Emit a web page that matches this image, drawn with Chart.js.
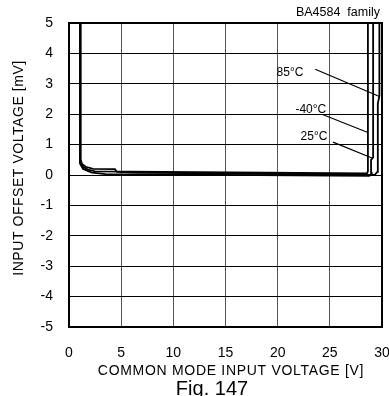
<!DOCTYPE html>
<html lang="en">
<head>
<meta charset="UTF-8">
<title>Input offset voltage vs common mode input voltage</title>
<script src="https://cdn.jsdelivr.net/npm/chart.js"></script>
<style>
  body { margin: 0; background: #fff; }
  canvas { display: block; }
</style>
</head>
<body>
<canvas id="vioChart" width="389" height="396"></canvas>
<script>
// axis ticks
const xTicks = [0, 5, 10, 15, 20, 25, 30];
const yTicks = [-5, -4, -3, -2, -1, 0, 1, 2, 3, 4, 5];

// curves (x = common mode input voltage [V], y = offset [mV])
const t85X = [1.12, 1.12, 1.25, 1.6, 2.3, 4.4, 4.6, 6.5, 29.3, 29.55, 29.6, 29.75, 29.75];
const t85Y = [5, 0.5, 0.36, 0.27, 0.2, 0.19, 0.1, 0.08, 0.0, 0.1, 2.35, 2.6, 5];
const tm40X = [1.08, 1.08, 1.3, 1.8, 2.5, 28.55, 28.65, 28.65];
const tm40Y = [5, 0.42, 0.28, 0.18, 0.12, 0.05, 0.12, 5];
const t25X = [1.05, 1.05, 1.35, 2.2, 3.5, 28.8, 29.0, 28.95, 28.95, 29.15, 29.15];
const t25Y = [5, 0.38, 0.2, 0.08, 0.03, -0.03, 0.05, 0.15, 0.5, 0.58, 5];

// curve labels and their leader lines (data coords)
const labelText = ['85°C', '-40°C', '25°C'];
const labelX = [19.9, 21.7, 22.2];
const labelY = [3.38, 2.16, 1.27];
const leaderFrom = [[23.6, 3.48], [24.3, 1.99], [25.3, 1.08]];
const leaderTo = [[29.7, 2.59], [28.65, 1.4], [29.1, 0.55]];

function pts(xs, ys) {
    return xs.map((x, i) => ({ x: x, y: ys[i] }));
}

const FONT = '"Liberation Sans", Arial, sans-serif';

// frame, labels and titles
const extras = {
    id: 'extras',
    afterDatasetsDraw(chart) {
        const ctx = chart.ctx;
        const a = chart.chartArea;
        const xs = chart.scales.x, ys = chart.scales.y;
        ctx.save();
        ctx.strokeStyle = '#000';
        ctx.lineWidth = 2;
        ctx.strokeRect(a.left, a.top, a.right - a.left, a.bottom - a.top);

        ctx.fillStyle = '#000';
        ctx.font = '12px ' + FONT;
        ctx.textBaseline = 'middle';
        ctx.textAlign = 'left';
        ctx.lineWidth = 1.2;
        labelText.forEach((t, i) => {
            ctx.fillText(t, xs.getPixelForValue(labelX[i]), ys.getPixelForValue(labelY[i]));
            ctx.beginPath();
            ctx.moveTo(xs.getPixelForValue(leaderFrom[i][0]), ys.getPixelForValue(leaderFrom[i][1]));
            ctx.lineTo(xs.getPixelForValue(leaderTo[i][0]), ys.getPixelForValue(leaderTo[i][1]));
            ctx.stroke();
        });

        ctx.font = '12.5px ' + FONT;
        ctx.textAlign = 'right';
        ctx.fillText('BA4584  family', 380, 13);

        ctx.textAlign = 'center';
        ctx.font = '14px ' + FONT;
        ctx.letterSpacing = '0.7px';
        ctx.fillText('COMMON MODE INPUT VOLTAGE [V]', 231, 371);
        ctx.letterSpacing = '0px';
        ctx.textBaseline = 'alphabetic';
        ctx.font = '20px ' + FONT;
        ctx.fillText('Fig. 147', 212, 395);

        ctx.textBaseline = 'middle';
        ctx.translate(19, 168);
        ctx.rotate(-Math.PI / 2);
        ctx.font = '14px ' + FONT;
        ctx.letterSpacing = '0.55px';
        ctx.fillText('INPUT OFFSET VOLTAGE [mV]', 0, 0);
        ctx.restore();
    }
};

const lineStyle = { borderColor: '#000', borderWidth: 1.8, pointRadius: 0, showLine: true, fill: false, tension: 0 };

new Chart(document.getElementById('vioChart'), {
    type: 'scatter',
    data: {
        datasets: [
            Object.assign({ label: '85°C', data: pts(t85X, t85Y) }, lineStyle),
            Object.assign({ label: '-40°C', data: pts(tm40X, tm40Y) }, lineStyle),
            Object.assign({ label: '25°C', data: pts(t25X, t25Y) }, lineStyle)
        ]
    },
    options: {
        responsive: false,
        animation: false,
        layout: { padding: { left: 0, right: 7, top: 23, bottom: 0 } },
        plugins: { legend: { display: false }, tooltip: { enabled: false } },
        scales: {
            x: {
                type: 'linear', min: 0, max: 30,
                afterBuildTicks: s => { s.ticks = xTicks.map(v => ({ value: v })); },
                afterFit: s => { s.height = 69; s.paddingLeft = 0; s.paddingRight = 0; },
                ticks: { color: '#000', font: { family: FONT, size: 14 }, padding: 18, maxRotation: 0 },
                grid: { color: '#555', lineWidth: 1, drawTicks: false },
                border: { display: false }
            },
            y: {
                type: 'linear', min: -5, max: 5,
                afterBuildTicks: s => { s.ticks = yTicks.map(v => ({ value: v })); },
                afterFit: s => { s.width = 69; s.paddingTop = 0; s.paddingBottom = 0; },
                ticks: { color: '#000', font: { family: FONT, size: 14 }, padding: 16 },
                grid: { color: '#000', lineWidth: 1, drawTicks: false },
                border: { display: false }
            }
        }
    },
    plugins: [extras]
});
</script>
</body>
</html>
